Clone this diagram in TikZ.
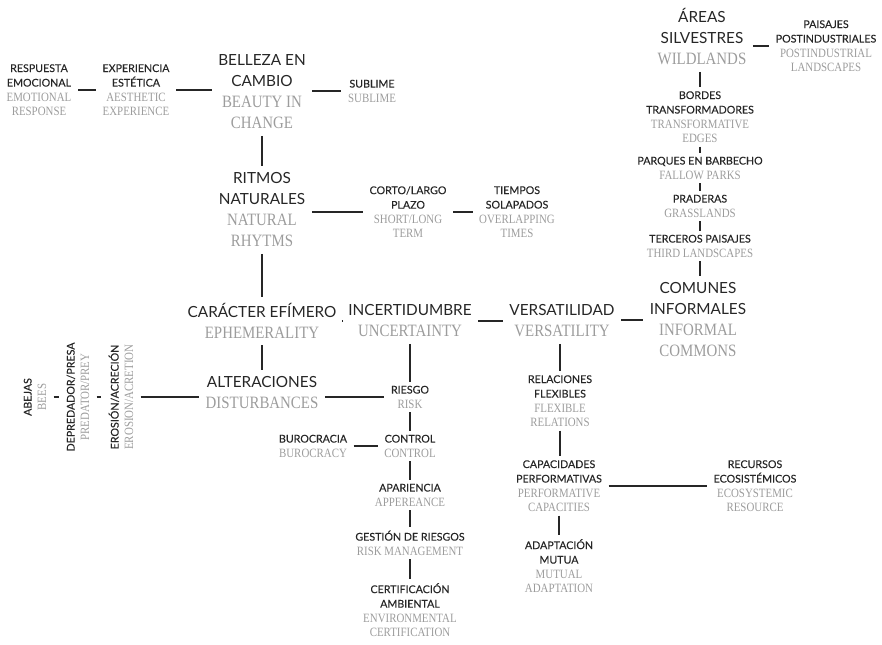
\documentclass[tikz,border=0pt]{standalone}
\usepackage{fontspec}
\usetikzlibrary{positioning}
\newfontfamily\spfont[FakeBold=0.15]{Lato}
\newfontfamily\spbigfont{Lato}
\newfontfamily\enfont[FakeStretch=0.86]{Liberation Serif}
\definecolor{ink}{HTML}{262626}
\definecolor{soft}{HTML}{9C9C9C}
\newcommand{\sptx}{\spfont\color{ink}}
\newcommand{\bigsp}{\spbigfont\color{ink}}
\newcommand{\bigen}{\enfont\fontsize{13}{15.75}\selectfont\color{soft}}
\newcommand{\smen}{\enfont\fontsize{9.5}{10.9}\selectfont\color{soft}}
\tikzset{
	term/.style={
		align=center, inner sep=1pt, outer xsep=4pt, outer ysep=2pt,
		font=\fontsize{8}{10.9}\selectfont,
	},
	vterm/.style={
		term, rotate=90, outer ysep=4.5pt,
	},
	bigterm/.style={
		align=center, inner sep=1.5pt, outer sep=3.5pt,
		font=\fontsize{11.5}{15.75}\selectfont,
	},
	link/.style={
		draw, line width=0.9pt, color=black!85,
	}
}

\begin{document}
\begin{tikzpicture}[x=0.75pt, y=-0.75pt]
		\useasboundingbox (0,0) rectangle (882,644);
		
		% belleza
		\node [term] (resp) at (39,90) {\sptx RESPUESTA\\\sptx EMOCIONAL\\\smen EMOTIONAL\\\smen RESPONSE};
		\node [term] (exper) at (136,90) {\sptx EXPERIENCIA\\\sptx ESTÉTICA\\\smen AESTHETIC\\\smen EXPERIENCE};
		\node [bigterm] (bell) at (262,92) {\bigsp BELLEZA EN\\\bigsp CAMBIO\\\bigen BEAUTY IN\\\bigen CHANGE};
		\node [term] (subl) at (372,91) {\sptx SUBLIME\\\smen SUBLIME};
		
		% ritmos
		\node [bigterm] (ritmos) at (262,210) {\bigsp RITMOS\\\bigsp NATURALES\\\bigen NATURAL\\\bigen RHYTMS};
		\node [term] (corto) at (408,212) {\sptx CORTO/LARGO\\\sptx PLAZO\\\smen SHORT/LONG\\\smen TERM};
		\node [term] (tiempos) at (517,212) {\sptx TIEMPOS\\\sptx SOLAPADOS\\\smen OVERLAPPING\\\smen TIMES};
		
		% fila central
		\node [bigterm] (caract) at (262,321) {\bigsp CARÁCTER EFÍMERO\\\bigen EPHEMERALITY};
		\node [bigterm] (incert) at (410,321) {\bigsp INCERTIDUMBRE\\\bigen UNCERTAINTY};
		\node [bigterm] (versat) at (562,321) {\bigsp VERSATILIDAD\\\bigen VERSATILITY};
		\node [bigterm] (comunes) at (698,320) {\bigsp COMUNES\\\bigsp INFORMALES\\\bigen INFORMAL\\\bigen COMMONS};
		
		% areas silvestres
		\node [bigterm] (areas) at (702,37) {\bigsp ÁREAS\\\bigsp SILVESTRES\\\bigen WILDLANDS};
		\node [term] (paisajes) at (826,46) {\sptx PAISAJES\\\sptx POSTINDUSTRIALES\\\smen POSTINDUSTRIAL\\\smen LANDSCAPES};
		\node [term] (bordes) at (700,117) {\sptx BORDES\\\sptx TRANSFORMADORES\\\smen TRANSFORMATIVE\\\smen EDGES};
		\node [term] (parques) at (700,168) {\sptx PARQUES EN BARBECHO\\\smen FALLOW PARKS};
		\node [term] (praderas) at (700,206) {\sptx PRADERAS\\\smen GRASSLANDS};
		\node [term] (terceros) at (700,246) {\sptx TERCEROS PAISAJES\\\smen THIRD LANDSCAPES};
		
		% alteraciones, riesgo
		\node [bigterm] (alter) at (262,393) {\bigsp ALTERACIONES\\\bigen DISTURBANCES};
		\node [term] (riesgo) at (410,397) {\sptx RIESGO\\\smen RISK};
		\node [term] (control) at (410,446) {\sptx CONTROL\\\smen CONTROL};
		\node [term] (buro) at (313,446) {\sptx BUROCRACIA\\\smen BUROCRACY};
		\node [term] (apar) at (410,495) {\sptx APARIENCIA\\\smen APPEREANCE};
		\node [term] (gestion) at (410,543) {\sptx GESTIÓN DE RIESGOS\\\smen RISK MANAGEMENT};
		\node [term] (certif) at (410,610) {\sptx CERTIFICACIÓN\\\sptx AMBIENTAL\\\smen ENVIRONMENTAL\\\smen CERTIFICATION};
		
		% versatilidad
		\node [term] (relac) at (560,401) {\sptx RELACIONES\\\sptx FLEXIBLES\\\smen FLEXIBLE\\\smen RELATIONS};
		\node [term] (capac) at (559,486) {\sptx CAPACIDADES\\\sptx PERFORMATIVAS\\\smen PERFORMATIVE\\\smen CAPACITIES};
		\node [term] (recursos) at (755,486) {\sptx RECURSOS\\\sptx ECOSISTÉMICOS\\\smen ECOSYSTEMIC\\\smen RESOURCE};
		\node [term] (adapt) at (559,566) {\sptx ADAPTACIÓN\\\sptx MUTUA\\\smen MUTUAL\\\smen ADAPTATION};
		
		% verticales a la izquierda
		\node [vterm] (erosion) at (121,397) {\sptx EROSIÓN/ACRECIÓN\\\smen EROSION/ACRETION};
		\node [vterm] (depred) at (78,397) {\sptx DEPREDADOR/PRESA\\\smen PREDATOR/PREY};
		\node [vterm] (abejas) at (35,397) {\sptx ABEJAS\\\smen BEES};
		
		\path [link] (resp.east) -- (resp.east -| exper.west);
		\path [link] (exper.east) -- (exper.east -| bell.west);
		\path [link] (bell.east |- subl.west) -- (subl.west);
		\path [link] (bell.south) -- (ritmos.north);
		\path [link] (ritmos.east |- corto.west) -- (corto.west);
		\path [link] (corto.east) -- (tiempos.west);
		\path [link] (ritmos.south) -- (caract.north);
		
		\path [link] (caract.east) -- (incert.west);
		\path [link] (incert.east) -- (versat.west);
		\path [link] (versat.east |- comunes.west) -- (comunes.west);
		
		\path [link] (paisajes.west -| areas.east) -- (paisajes.west);
		\path [link] (bordes.north |- areas.south) -- (bordes.north);
		\path [link] (bordes.south) -- (parques.north);
		\path [link] (parques.south) -- (praderas.north);
		\path [link] (praderas.south) -- (terceros.north);
		\path [link] (terceros.south) -- (terceros.south |- comunes.north);
		
		\path [link] (caract.south) -- (alter.north);
		\path [link] (incert.south) -- (riesgo.north);
		\path [link] (alter.east |- riesgo.west) -- (riesgo.west);
		\path [link] (riesgo.south) -- (control.north);
		\path [link] (buro.east) -- (control.west);
		\path [link] (control.south) -- (apar.north);
		\path [link] (apar.south) -- (gestion.north);
		\path [link] (gestion.south) -- (certif.north);
		
		\path [link] (relac.north |- versat.south) -- (relac.north);
		\path [link] (relac.south) -- (relac.south |- capac.north);
		\path [link] (capac.east) -- (recursos.west);
		\path [link] (capac.south) -- (adapt.north);
		
		\path [link] (erosion.south) -- (erosion.south -| alter.west);
		\path [link] (depred.south) -- (erosion.north);
		\path [link] (abejas.south) -- (depred.north);
\end{tikzpicture}
\end{document}
